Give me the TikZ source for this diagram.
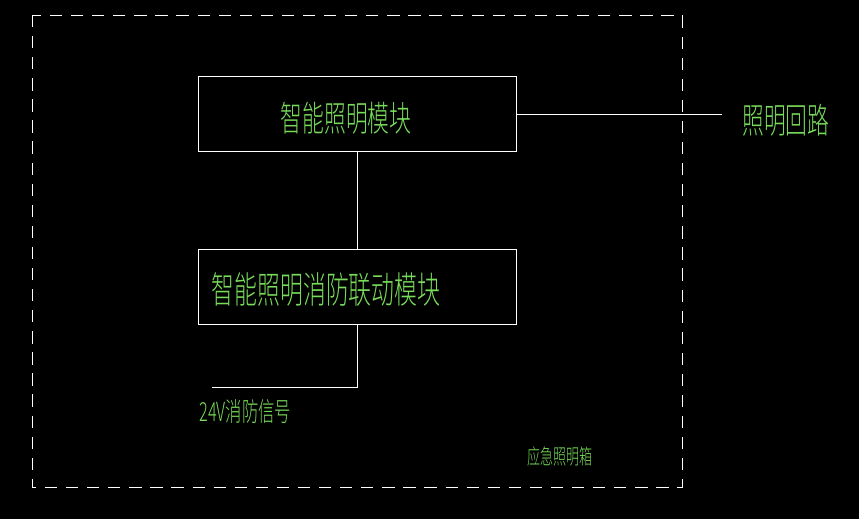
\documentclass[tikz,border=0pt]{standalone}
\usepackage{fontspec}
\newfontfamily\cjk{Noto Sans CJK SC Light}
\usetikzlibrary{positioning}
\definecolor{cadgreen}{RGB}{120,220,90}
\tikzset{
  blk/.style={draw=white,line width=0.4pt,minimum width=6.36cm,minimum height=1.5cm},
  wire/.style={draw=white,line width=0.4pt},
  lbl/.style={text=cadgreen,inner sep=0pt}
}
\newcommand{\cadtxt}[2]{\scalebox{0.62}[1]{\fontsize{#1}{#1}\cjk #2}}
\begin{document}
\begin{tikzpicture}[x=0.02cm,y=-0.02cm]
\fill[black] (0,0) rectangle (859,519);
\draw[wire,dashed,dash pattern=on 7pt off 5pt] (32,15) rectangle (682,487);
\node[blk] (light) at (357,114) {};
\node[lbl] at (346,118) {\cadtxt{20pt}{智能照明模块}};
\node[blk] (fire) at (357,286.5) {};
\node[lbl] at (326,290) {\cadtxt{21pt}{智能照明消防联动模块}};
\coordinate (loopend) at (722,114);
\node[lbl,anchor=west] (loop) at (742,120) {\cadtxt{20pt}{照明回路}};
\draw[wire] (light.east) -- (loopend);
\draw[wire] (light.south) -- (fire.north);
\coordinate (bend) at (357,387);
\coordinate (sigend) at (212,387);
\draw[wire] (fire.south) -- (bend) -- (sigend);
\node[lbl,anchor=west] (sig) at (199,412) {\cadtxt{15pt}{24V消防信号}};
\node[lbl,anchor=west] (box) at (527,457) {\cadtxt{12pt}{应急照明箱}};
\end{tikzpicture}
\end{document}
